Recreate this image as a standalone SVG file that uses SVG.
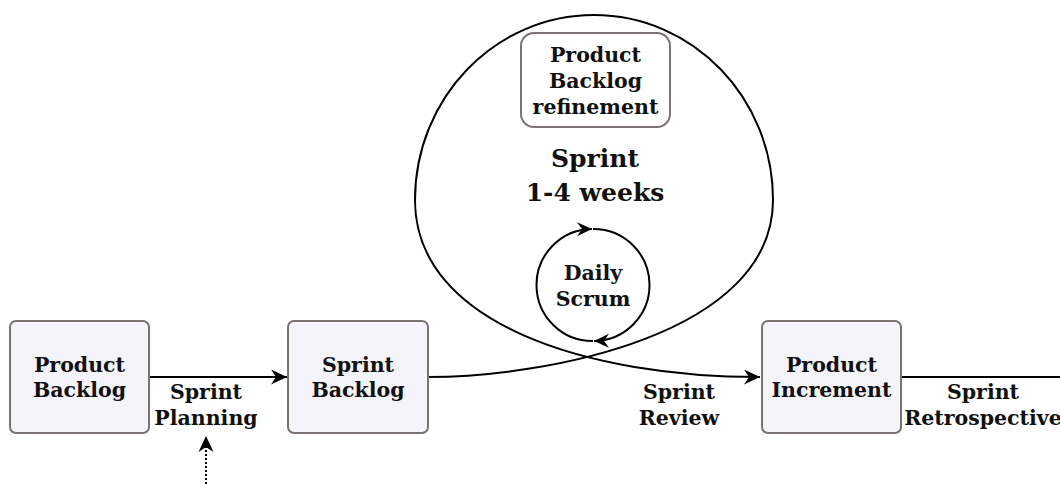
<svg xmlns="http://www.w3.org/2000/svg" width="1060" height="484" viewBox="0 0 1060 484">
  <style>
    .box { fill: #f5f4fb; stroke: #7b7272; stroke-width: 2; }
    .refine { fill: #ffffff; stroke: #7b7272; stroke-width: 2; }
    .line { fill: none; stroke: #000000; stroke-width: 2; }
    .dotted { fill: none; stroke: #000000; stroke-width: 2; stroke-dasharray: 2 2; }
    text { font-family: "DejaVu Serif", "Liberation Serif", serif; font-weight: bold; font-size: 20.5px; fill: #111111; text-anchor: middle; }
    .big { font-size: 25px; }
  </style>
  <defs>
    <marker id="arrow" markerUnits="userSpaceOnUse" markerWidth="17" markerHeight="16" refX="16" refY="7.5" orient="auto">
      <path d="M0,0 L16,7.5 L0,15 L5,7.5 Z" fill="#000000"/>
    </marker>
    <marker id="arrowSmall" markerUnits="userSpaceOnUse" markerWidth="16" markerHeight="15" refX="15" refY="7" orient="auto">
      <path d="M0,0 L15,7 L0,14 L5,7 Z" fill="#000000"/>
    </marker>
  </defs>

  <!-- connectors -->
  <g id="connectors">
    <line class="line" x1="149" y1="377" x2="287" y2="377" marker-end="url(#arrow)"/>
    <path class="line" d="M428,377 C545,377 773,335 773,200 C773,98 693,15 594,15 C495,15 415,98 415,200 C415,325 590,377 760,377" marker-end="url(#arrow)"/>
    <line class="line" x1="901" y1="377" x2="1062" y2="377"/>
    <line class="dotted" x1="206" y1="484" x2="206" y2="436" marker-end="url(#arrow)"/>
    <path class="line" d="M593,341 A56,56 0 0 1 592,229" marker-end="url(#arrowSmall)"/>
    <path class="line" d="M593,229 A56,56 0 0 1 594,341" marker-end="url(#arrowSmall)"/>
  </g>

  <g id="product-backlog">
    <rect class="box" x="10" y="321" width="139" height="112" rx="6"/>
    <text x="79.5" y="372">Product</text>
    <text x="79.5" y="397">Backlog</text>
  </g>

  <g id="sprint-backlog">
    <rect class="box" x="288" y="321" width="140" height="112" rx="6"/>
    <text x="358" y="372">Sprint</text>
    <text x="358" y="397">Backlog</text>
  </g>

  <g id="product-increment">
    <rect class="box" x="762" y="321" width="139" height="112" rx="6"/>
    <text x="831.5" y="372">Product</text>
    <text x="831.5" y="397">Increment</text>
  </g>

  <g id="backlog-refinement">
    <rect class="refine" x="521" y="33" width="149" height="94" rx="13"/>
    <text x="595.5" y="62">Product</text>
    <text x="595.5" y="88">Backlog</text>
    <text x="595.5" y="114">refinement</text>
  </g>

  <g id="sprint">
    <text class="big" x="595" y="167">Sprint</text>
    <text class="big" x="595" y="201">1-4 weeks</text>
  </g>

  <g id="daily-scrum">
    <text x="593" y="280">Daily</text>
    <text x="593" y="306">Scrum</text>
  </g>

  <g id="labels">
    <text x="206" y="399">Sprint</text>
    <text x="206" y="425">Planning</text>
    <text x="679" y="399">Sprint</text>
    <text x="679" y="425">Review</text>
    <text x="983" y="399">Sprint</text>
    <text x="983" y="425">Retrospective</text>
  </g>
</svg>
